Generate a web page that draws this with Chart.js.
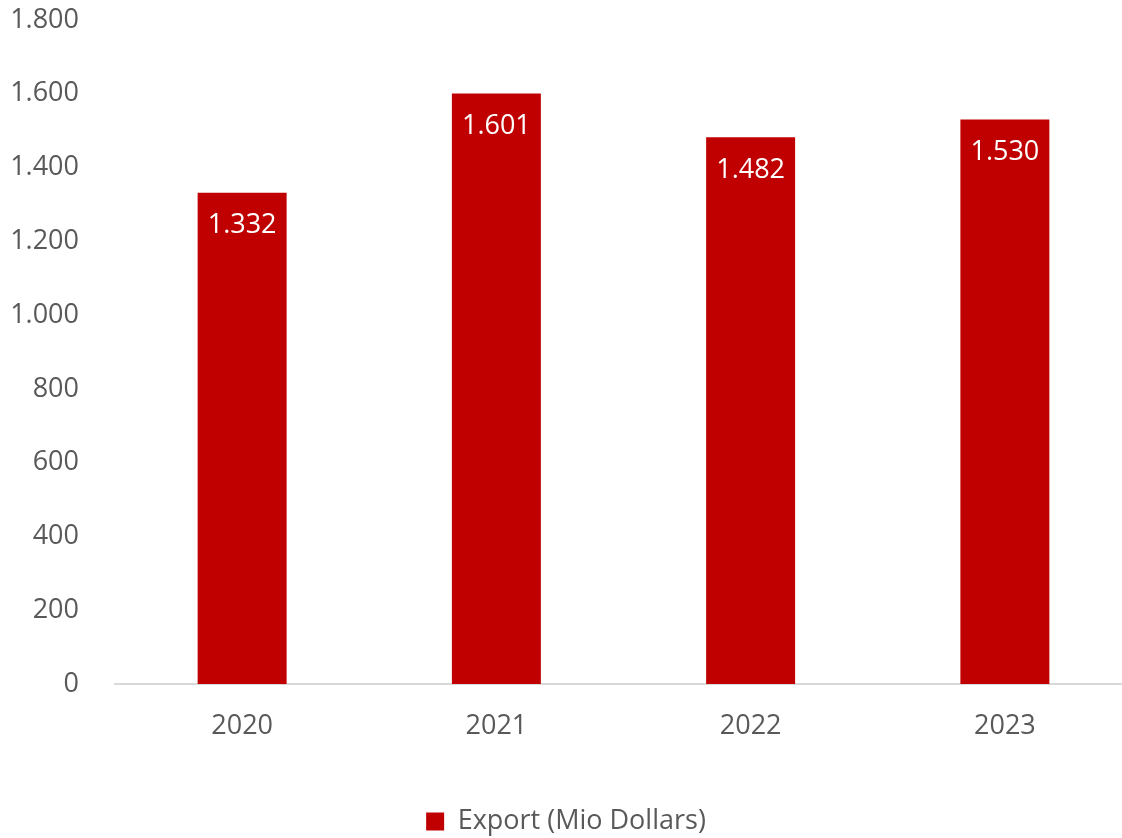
<!DOCTYPE html>
<html>
<head>
<meta charset="utf-8">
<script src="https://cdn.jsdelivr.net/npm/chart.js@4"></script>
<style>
  html, body { margin: 0; padding: 0; background: #fff; overflow: hidden; }
  #wrap { width: 1134px; height: 838px; }
</style>
</head>
<body>
<div id="wrap"><canvas id="myChart" width="1134" height="838"></canvas></div>
<script>
var years = ['2020', '2021', '2022', '2023'];
var exportValues = [1332, 1601, 1482, 1530];
var seriesName = 'Export (Mio Dollars)';

function fmt(v) {
    // dot as thousands separator
    return String(v).replace(/\B(?=(\d{3})+(?!\d))/g, '.');
}

var barLabels = {
    id: 'barLabels',
    afterDatasetsDraw: function (chart) {
        var ctx = chart.ctx;
        var meta = chart.getDatasetMeta(0);
        ctx.save();
        ctx.fillStyle = '#ffffff';
        ctx.font = '27px "Open Sans"';
        ctx.textAlign = 'center';
        ctx.textBaseline = 'middle';
        meta.data.forEach(function (bar, i) {
            ctx.fillText(fmt(chart.data.datasets[0].data[i]), bar.x, bar.y + 33);
        });
        ctx.restore();
    }
};

window.onload = function () {
    var ctx = document.getElementById('myChart').getContext('2d');
    new Chart(ctx, {
        type: 'bar',
        data: {
            labels: years,
            datasets: [{
                label: seriesName,
                data: exportValues,
                backgroundColor: '#C00000',
                borderWidth: 0,
                categoryPercentage: 1,
                barPercentage: 0.35
            }]
        },
        options: {
            responsive: false,
            animation: false,
            layout: { padding: { top: 20, left: 0, right: 2, bottom: -7 } },
            scales: {
                x: {
                    grid: { display: false },
                    border: { color: '#D9D9D9', width: 2 },
                    ticks: { color: '#595959', font: { family: 'Open Sans', size: 27 }, padding: 18 },
                    afterFit: function (scale) { scale.height = 124; }
                },
                y: {
                    min: 0,
                    max: 1800,
                    grid: { display: false },
                    border: { display: false },
                    ticks: {
                        stepSize: 200,
                        color: '#595959',
                        font: { family: 'Open Sans', size: 27 },
                        padding: 28,
                        callback: function (v) { return fmt(v); }
                    },
                    afterFit: function (scale) {
                        scale.width = 115;
                        scale.paddingTop = 0;
                        scale.paddingBottom = 0;
                    }
                }
            },
            plugins: {
                tooltip: { enabled: false },
                legend: {
                    position: 'bottom',
                    labels: {
                        color: '#595959',
                        font: { family: 'Open Sans', size: 27 },
                        boxWidth: 18,
                        boxHeight: 18,
                        padding: 0
                    }
                }
            }
        },
        plugins: [barLabels]
    });
};
</script>
</body>
</html>
